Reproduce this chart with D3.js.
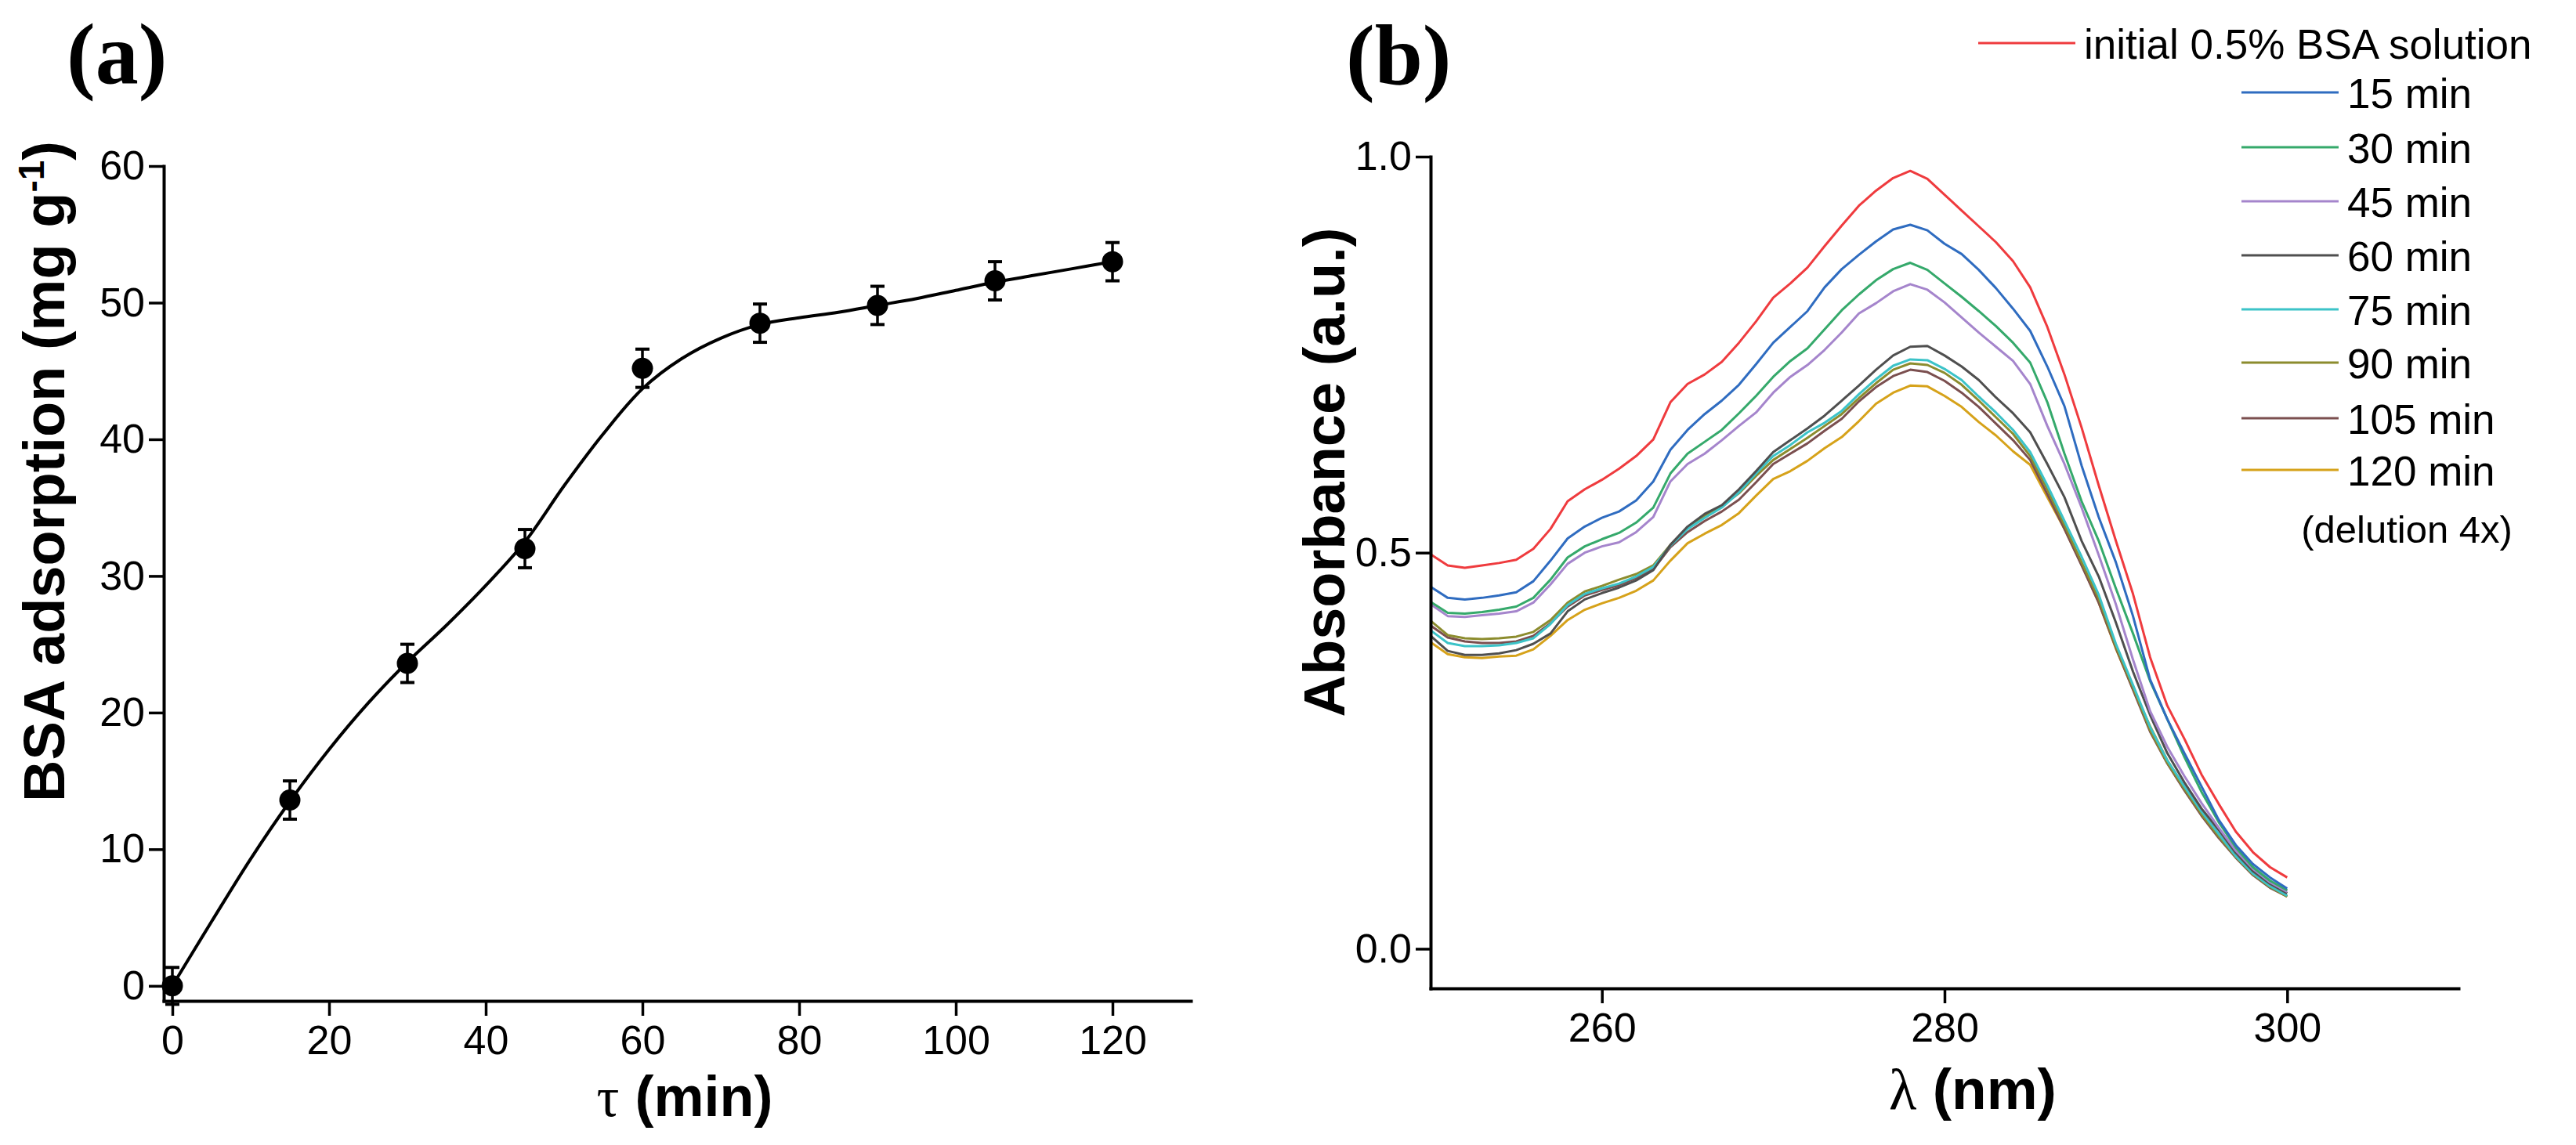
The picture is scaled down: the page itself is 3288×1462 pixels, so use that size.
<!DOCTYPE html>
<html>
<head>
<meta charset="utf-8">
<script src="https://cdn.jsdelivr.net/npm/d3@7.9.0/dist/d3.min.js"></script>
<style>
  html, body { margin: 0; padding: 0; background: #fff; }
  svg { display: block; }
  text { font-family: "Liberation Sans", Arial, sans-serif; fill: #000; }
</style>
</head>
<body>
<svg id="chart" width="3288" height="1462"></svg>
<script>
// ---- panel (a): adsorption kinetics ----
const timeMin = [0, 15, 30, 45, 60, 75, 90, 105, 120];
const adsorption = [0, 13.6, 23.6, 32.0, 45.2, 48.5, 49.8, 51.6, 53.0];
const adsorptionErr = [1.35, 1.4, 1.4, 1.4, 1.4, 1.4, 1.4, 1.4, 1.4];

// smooth fitted line
const fitTime = [0, 5, 10, 15, 20, 25, 30, 35, 40, 45, 50, 55, 60, 65, 70, 75, 80, 85, 90, 95, 100, 105, 110, 115, 120];
const fitValue = [0, 4.7, 9.3, 13.5, 17.3, 20.7, 23.7, 26.4, 29.3, 32.5, 36.6, 40.4, 43.7, 45.9, 47.4, 48.4, 48.9, 49.3, 49.8, 50.3, 50.9, 51.5, 52.0, 52.5, 53.0];

const ticksA_x = [0, 20, 40, 60, 80, 100, 120];
const minorA_x = [10, 30, 50, 70, 90, 110, 130];
const ticksA_y = [0, 10, 20, 30, 40, 50, 60];
const minorA_y = [5, 15, 25, 35, 45, 55];

// ---- panel (b): UV spectra ----
const wavelength = [250, 251, 252, 253, 254, 255, 256, 257, 258, 259, 260, 261, 262, 263, 264, 265, 266, 267, 268, 269,
  270, 271, 272, 273, 274, 275, 276, 277, 278, 279, 280, 281, 282, 283, 284, 285, 286, 287, 288, 289,
  290, 291, 292, 293, 294, 295, 296, 297, 298, 299, 300];

const absInitial = [0.498, 0.484, 0.481, 0.484, 0.487, 0.491, 0.505, 0.530, 0.565, 0.580, 0.592, 0.606, 0.622, 0.643, 0.690, 0.713, 0.725, 0.741, 0.765, 0.792,
  0.822, 0.840, 0.860, 0.887, 0.913, 0.938, 0.957, 0.973, 0.982, 0.972, 0.952, 0.932, 0.912, 0.892, 0.868, 0.835, 0.785, 0.725, 0.658, 0.585,
  0.515, 0.448, 0.368, 0.307, 0.265, 0.220, 0.183, 0.148, 0.122, 0.103, 0.090];
const abs15 = [0.457, 0.443, 0.441, 0.443, 0.446, 0.450, 0.464, 0.490, 0.518, 0.533, 0.544, 0.552, 0.566, 0.590, 0.630, 0.655, 0.675, 0.692, 0.712, 0.738,
  0.765, 0.785, 0.805, 0.835, 0.858, 0.876, 0.893, 0.908, 0.914, 0.907, 0.890, 0.877, 0.857, 0.834, 0.808, 0.780, 0.735, 0.685, 0.610, 0.545,
  0.488, 0.420, 0.340, 0.290, 0.247, 0.205, 0.163, 0.131, 0.107, 0.090, 0.076];
const abs30 = [0.438, 0.424, 0.423, 0.425, 0.428, 0.432, 0.443, 0.466, 0.494, 0.508, 0.517, 0.525, 0.538, 0.557, 0.600, 0.625, 0.640, 0.655, 0.676, 0.698,
  0.722, 0.742, 0.758, 0.782, 0.806, 0.826, 0.844, 0.858, 0.866, 0.857, 0.840, 0.823, 0.805, 0.786, 0.765, 0.740, 0.690, 0.625, 0.565, 0.515,
  0.455, 0.398, 0.338, 0.290, 0.242, 0.198, 0.160, 0.128, 0.103, 0.086, 0.074];
const abs45 = [0.435, 0.420, 0.419, 0.421, 0.423, 0.426, 0.437, 0.460, 0.486, 0.500, 0.508, 0.513, 0.526, 0.545, 0.590, 0.612, 0.625, 0.642, 0.660, 0.677,
  0.702, 0.722, 0.737, 0.756, 0.778, 0.802, 0.815, 0.830, 0.839, 0.832, 0.816, 0.797, 0.778, 0.760, 0.742, 0.713, 0.660, 0.612, 0.557, 0.497,
  0.435, 0.365, 0.300, 0.255, 0.218, 0.184, 0.153, 0.124, 0.101, 0.084, 0.072];
const abs60 = [0.395, 0.376, 0.371, 0.371, 0.373, 0.377, 0.385, 0.398, 0.426, 0.441, 0.449, 0.456, 0.465, 0.478, 0.510, 0.533, 0.549, 0.560, 0.580, 0.603,
  0.627, 0.642, 0.657, 0.673, 0.692, 0.711, 0.731, 0.749, 0.760, 0.761, 0.749, 0.735, 0.718, 0.696, 0.676, 0.652, 0.612, 0.570, 0.515, 0.470,
  0.412, 0.350, 0.295, 0.247, 0.210, 0.177, 0.150, 0.121, 0.098, 0.082, 0.070];
const abs75 = [0.402, 0.386, 0.382, 0.382, 0.383, 0.386, 0.392, 0.410, 0.434, 0.448, 0.455, 0.461, 0.470, 0.482, 0.509, 0.530, 0.544, 0.557, 0.576, 0.600,
  0.622, 0.636, 0.652, 0.664, 0.679, 0.700, 0.719, 0.736, 0.744, 0.743, 0.732, 0.718, 0.697, 0.677, 0.655, 0.627, 0.585, 0.540, 0.495, 0.447,
  0.385, 0.333, 0.280, 0.238, 0.205, 0.173, 0.145, 0.117, 0.095, 0.079, 0.067];
const abs90 = [0.414, 0.396, 0.392, 0.391, 0.392, 0.394, 0.400, 0.415, 0.437, 0.451, 0.458, 0.466, 0.473, 0.484, 0.510, 0.531, 0.547, 0.559, 0.575, 0.597,
  0.617, 0.631, 0.645, 0.660, 0.675, 0.695, 0.714, 0.731, 0.739, 0.737, 0.727, 0.712, 0.692, 0.671, 0.650, 0.622, 0.580, 0.535, 0.488, 0.442,
  0.382, 0.330, 0.276, 0.235, 0.202, 0.170, 0.142, 0.116, 0.094, 0.078, 0.066];
const abs105 = [0.408, 0.393, 0.388, 0.386, 0.386, 0.388, 0.395, 0.411, 0.432, 0.446, 0.453, 0.459, 0.468, 0.479, 0.507, 0.526, 0.540, 0.552, 0.567, 0.589,
  0.612, 0.625, 0.638, 0.654, 0.669, 0.691, 0.709, 0.723, 0.731, 0.728, 0.717, 0.702, 0.684, 0.663, 0.642, 0.617, 0.574, 0.530, 0.484, 0.437,
  0.380, 0.327, 0.274, 0.234, 0.200, 0.168, 0.140, 0.115, 0.093, 0.077, 0.066];
const abs120 = [0.387, 0.372, 0.368, 0.367, 0.369, 0.370, 0.378, 0.395, 0.415, 0.428, 0.436, 0.443, 0.452, 0.465, 0.490, 0.512, 0.524, 0.535, 0.550, 0.572,
  0.593, 0.603, 0.616, 0.632, 0.646, 0.666, 0.688, 0.702, 0.711, 0.710, 0.698, 0.684, 0.665, 0.648, 0.628, 0.611, 0.570, 0.530, 0.485, 0.437,
  0.379, 0.328, 0.281, 0.238, 0.204, 0.170, 0.142, 0.116, 0.094, 0.078, 0.066];

const seriesLabels = ['initial 0.5% BSA solution', '15 min', '30 min', '45 min', '60 min', '75 min', '90 min', '105 min', '120 min'];
const seriesValues = [absInitial, abs15, abs30, abs45, abs60, abs75, abs90, abs105, abs120];
const seriesColors = ['#ef3b3e', '#2f6cc0', '#35a96b', '#a585cc', '#4f4f4f', '#3cc3c8', '#8c8c2e', '#7b4f4f', '#d6a21a'];

const ticksB_x = [260, 280, 300];
const minorB_x = [250, 270, 290, 310];
const ticksB_y = [0, 0.5, 1.0];
const minorB_y = [0.25, 0.75];

const svg = d3.select('#chart');
svg.append('rect').attr('width', 3288).attr('height', 1462).attr('fill', '#fff');

// draws an Origin-style L-shaped frame with outward major and minor ticks
function drawAxes(g, x, y, xt, xm, yt, ym, xfmt, yfmt) {
    const ax = g.append('g').attr('transform', `translate(0,${y.range()[0]})`);
    ax.call(d3.axisBottom(x).tickValues(xm).tickSize(10).tickFormat('').tickSizeOuter(0));
    ax.call(d3.axisBottom(x).tickValues(xt).tickSize(19).tickPadding(12).tickFormat(xfmt).tickSizeOuter(0));

    const ay = g.append('g').attr('transform', `translate(${x.range()[0]},0)`);
    ay.call(d3.axisLeft(y).tickValues(ym).tickSize(10).tickFormat('').tickSizeOuter(0));
    ay.call(d3.axisLeft(y).tickValues(yt).tickSize(19).tickPadding(5).tickFormat(yfmt).tickSizeOuter(0));

    g.selectAll('.domain').attr('stroke', '#000').attr('stroke-width', 4).attr('stroke-linecap', 'square');
    g.selectAll('.tick line').attr('stroke', '#000').attr('stroke-width', 3.5);
    g.selectAll('.tick text')
        .style('font-family', '"Liberation Sans", Arial, sans-serif')
        .style('font-size', '52px')
        .attr('fill', '#000');
}

// ---------- panel (a) ----------
const xA = d3.scaleLinear().domain([-1.1, 130]).range([209, 1520]);
const yA = d3.scaleLinear().domain([-1.1, 60]).range([1278, 212]);
const gA = svg.append('g');

gA.append('path')
    .datum(fitTime.map((t, i) => [t, fitValue[i]]))
    .attr('fill', 'none')
    .attr('stroke', '#000')
    .attr('stroke-width', 4)
    .attr('d', d3.line().x(d => xA(d[0])).y(d => yA(d[1])).curve(d3.curveCatmullRom));

const pts = gA.append('g').selectAll('g')
    .data(timeMin.map((t, i) => ({ t, v: adsorption[i], e: adsorptionErr[i] })))
    .join('g');
pts.append('line')
    .attr('x1', d => xA(d.t)).attr('x2', d => xA(d.t))
    .attr('y1', d => yA(d.v - d.e)).attr('y2', d => yA(d.v + d.e))
    .attr('stroke', '#000').attr('stroke-width', 3.5);
pts.selectAll('.cap')
    .data(d => [d.v - d.e, d.v + d.e].map(v => ({ t: d.t, v })))
    .join('line')
    .attr('x1', d => xA(d.t) - 9).attr('x2', d => xA(d.t) + 9)
    .attr('y1', d => yA(d.v)).attr('y2', d => yA(d.v))
    .attr('stroke', '#000').attr('stroke-width', 4);
pts.append('circle')
    .attr('cx', d => xA(d.t)).attr('cy', d => yA(d.v))
    .attr('r', 13.5).attr('fill', '#000');

drawAxes(gA, xA, yA, ticksA_x, minorA_x, ticksA_y, minorA_y, d3.format('d'), d3.format('d'));

// titles (a)
svg.append('text').attr('x', 85).attr('y', 106)
    .style('font-family', '"Liberation Serif", "Times New Roman", serif')
    .style('font-weight', 'bold').style('font-size', '110px').text('(a)');

const yTitleA = svg.append('text')
    .attr('transform', 'translate(82,602) rotate(-90)')
    .attr('text-anchor', 'middle')
    .style('font-weight', 'bold').style('font-size', '74px');
yTitleA.append('tspan').text('BSA adsorption (mg g');
yTitleA.append('tspan').attr('baseline-shift', 'super').style('font-size', '46px').text('-1');
yTitleA.append('tspan').text(')');

const xTitleA = svg.append('text').attr('x', 874).attr('y', 1425)
    .attr('text-anchor', 'middle').style('font-size', '72px');
xTitleA.append('tspan').style('font-family', '"Liberation Serif", "Times New Roman", serif').text('τ');
xTitleA.append('tspan').style('font-weight', 'bold').text(' (min)');

// ---------- panel (b) ----------
const xB = d3.scaleLinear().domain([250, 310]).range([1826, 3138]);
const yB = d3.scaleLinear().domain([-0.05, 1.0]).range([1262, 200]);
const gB = svg.append('g');

const specLine = d3.line().x((d, i) => xB(wavelength[i])).y(d => yB(d));
gB.append('g').selectAll('path')
    .data(seriesValues.map((vals, i) => ({ vals, color: seriesColors[i] })).reverse())
    .join('path')
    .attr('fill', 'none')
    .attr('stroke', d => d.color)
    .attr('stroke-width', 3)
    .attr('stroke-linejoin', 'round')
    .attr('d', d => specLine(d.vals));

drawAxes(gB, xB, yB, ticksB_x, minorB_x, ticksB_y, minorB_y, d3.format('d'), d3.format('.1f'));

svg.append('text').attr('x', 1718).attr('y', 108)
    .style('font-family', '"Liberation Serif", "Times New Roman", serif')
    .style('font-weight', 'bold').style('font-size', '110px').text('(b)');

svg.append('text')
    .attr('transform', 'translate(1716,603) rotate(-90)')
    .attr('text-anchor', 'middle')
    .style('font-weight', 'bold').style('font-size', '74px')
    .text('Absorbance (a.u.)');

const xTitleB = svg.append('text').attr('x', 2518).attr('y', 1416)
    .attr('text-anchor', 'middle').style('font-size', '73px');
xTitleB.append('tspan').style('font-family', '"Liberation Serif", "Times New Roman", serif').text('λ');
xTitleB.append('tspan').style('font-weight', 'bold').text(' (nm)');

// legend
const legendRows = [55, 118, 188, 257, 326, 395, 463, 534, 600];
const legend = svg.append('g');
seriesLabels.forEach((label, i) => {
    const x0 = i === 0 ? 2525 : 2861;
    legend.append('line')
        .attr('x1', x0).attr('x2', x0 + 124)
        .attr('y1', legendRows[i]).attr('y2', legendRows[i])
        .attr('stroke', seriesColors[i]).attr('stroke-width', 3);
    legend.append('text')
        .attr('x', x0 + 135).attr('y', legendRows[i] + 20)
        .style('font-size', '53px').text(label);
});
legend.append('text').attr('x', 3072).attr('y', 693)
    .attr('text-anchor', 'middle').style('font-size', '49px').text('(delution 4x)');
</script>
</body>
</html>
